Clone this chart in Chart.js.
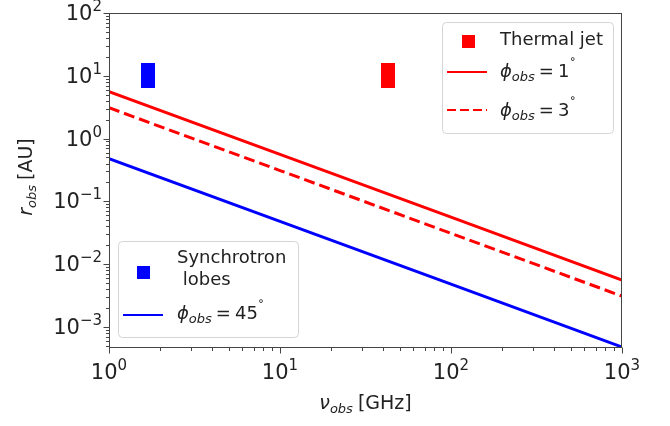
<!DOCTYPE html>
<html>
<head>
<meta charset="utf-8">
<script src="https://cdn.jsdelivr.net/npm/chart.js@4/dist/chart.umd.min.js"></script>
<style>
html,body{margin:0;padding:0;background:#fff;}
#wrap{width:670px;height:426px;position:relative;}
</style>
</head>
<body>
<div id="wrap"><canvas id="c" width="670" height="426"></canvas></div>
<script>
// ---- data ----
const freqGHz = [1, 10, 100, 1000];
const rJetPhi1 = [5.6, 0.56, 0.056, 0.0056];
const rJetPhi3 = [3.1, 0.31, 0.031, 0.0031];
const rLobesPhi45 = [0.48, 0.048, 0.0048, 0.00048];
const thermalJetX = [43];
const thermalJetY = [10];
const lobesX = [1.7];
const lobesY = [10];
const xTickExps = [0, 1, 2, 3];
const yTickExps = [-3, -2, -1, 0, 1, 2];
const xRange = [1, 1000];
const yRange = [0.00048, 100];

const FONT = "'DejaVu Sans'";
const fN = s => s + "px " + FONT;
const fI = s => "italic " + s + "px " + FONT;

function rectStyle(color, w, h) {
  const c = document.createElement('canvas');
  c.width = w; c.height = h;
  const g = c.getContext('2d');
  g.fillStyle = color; g.fillRect(0, 0, w, h);
  return c;
}

function toPts(xs, ys) { return xs.map((x, i) => ({x: x, y: ys[i]})); }

function runsWidth(ctx, runs) {
  let w = 0;
  runs.forEach(r => { ctx.font = r.font; w += ctx.measureText(r.t).width + (r.gap || 0); });
  return w;
}
function drawRuns(ctx, runs, x, y) {
  ctx.textBaseline = 'alphabetic';
  ctx.textAlign = 'left';
  runs.forEach(r => {
    ctx.font = r.font;
    ctx.fillText(r.t, x, y + (r.dy || 0));
    x += ctx.measureText(r.t).width + (r.gap || 0);
  });
}
function powRuns(e, size) {
  const sup = e < 0 ? '\u2212' + (-e) : String(e);
  return [{t: '10', font: fN(size)}, {t: sup, font: fN(Math.round(size * 0.7)), dy: -Math.round(size * 0.45)}];
}
function phiRuns(val, size) {
  const s = Math.round(size * 0.7);
  return [
    {t: '\u03D5', font: fI(size)},
    {t: 'obs', font: fI(s), dy: Math.round(size * 0.2), gap: 4},
    {t: '=', font: fN(size), gap: 4},
    {t: val, font: fN(size)},
    {t: '\u02DA', font: fN(s), dy: -Math.round(size * 0.45)}
  ];
}

const decor = {
  id: 'decor',
  afterDraw(chart) {
    const ctx = chart.ctx;
    const a = chart.chartArea;
    const xs = chart.scales.x, ys = chart.scales.y;
    ctx.save();
    // frame
    ctx.strokeStyle = '#444';
    ctx.lineWidth = 1;
    ctx.strokeRect(Math.round(a.left) + 0.5, Math.round(a.top) + 0.5, Math.round(a.right - a.left) - 1, Math.round(a.bottom - a.top));
    // ticks
    ctx.beginPath();
    const bottom = Math.round(a.bottom) + 0.5, left = Math.round(a.left) + 0.5;
    for (let e = -4; e <= 3; e++) {
      for (let m = 1; m <= 9; m++) {
        const v = m * Math.pow(10, e);
        const len = m === 1 ? 6 : 3.5;
        if (v >= xRange[0] - 1e-9 && v <= xRange[1] + 1e-9) {
          const px = Math.round(xs.getPixelForValue(v)) + 0.5;
          ctx.moveTo(px, bottom); ctx.lineTo(px, bottom + len);
        }
        if (v >= yRange[0] && v <= yRange[1] * 1.0001) {
          const py = Math.round(ys.getPixelForValue(v)) + 0.5;
          ctx.moveTo(left, py); ctx.lineTo(left - len, py);
        }
      }
    }
    ctx.stroke();
    // tick labels
    ctx.fillStyle = '#222';
    const TS = 21;
    xTickExps.forEach(e => {
      const px = xs.getPixelForValue(Math.pow(10, e));
      const runs = powRuns(e, TS);
      const w = runsWidth(ctx, runs);
      drawRuns(ctx, runs, px - w / 2, 379);
    });
    yTickExps.forEach(e => {
      const py = ys.getPixelForValue(Math.pow(10, e));
      const runs = powRuns(e, TS);
      const w = runsWidth(ctx, runs);
      drawRuns(ctx, runs, 102 - w, py + 7);
    });
    // axis titles
    const xt = [{t: '\u03BD', font: fI(19)}, {t: 'obs', font: fI(13), dy: 4, gap: 5}, {t: '[GHz]', font: fN(19)}];
    const xw = runsWidth(ctx, xt);
    drawRuns(ctx, xt, (a.left + a.right) / 2 - xw / 2, 409);
    const yt = [{t: 'r', font: fI(19)}, {t: 'obs', font: fI(13), dy: 4, gap: 5}, {t: '[AU]', font: fN(19)}];
    const yw = runsWidth(ctx, yt);
    ctx.save();
    ctx.translate(32, 177);
    ctx.rotate(-Math.PI / 2);
    drawRuns(ctx, yt, -yw / 2, 0);
    ctx.restore();

    // legends
    function box(x0, y0, x1, y1) {
      ctx.beginPath();
      ctx.roundRect(x0 + 0.5, y0 + 0.5, x1 - x0, y1 - y0, 4);
      ctx.fillStyle = 'rgba(255,255,255,0.8)';
      ctx.fill();
      ctx.strokeStyle = '#d4d4d4';
      ctx.lineWidth = 1;
      ctx.stroke();
    }
    const LS = 18;
    // upper right legend
    box(442, 22, 613, 133);
    ctx.fillStyle = '#ff0000';
    ctx.fillRect(462, 35, 13, 13);
    ctx.fillStyle = '#222';
    drawRuns(ctx, [{t: 'Thermal jet', font: fN(LS)}], 500, 45);
    ctx.strokeStyle = '#ff0000';
    ctx.lineWidth = 2;
    ctx.setLineDash([]);
    ctx.beginPath(); ctx.moveTo(447, 72); ctx.lineTo(487, 72); ctx.stroke();
    ctx.setLineDash([9, 4]);
    ctx.beginPath(); ctx.moveTo(447, 110); ctx.lineTo(487, 110); ctx.stroke();
    ctx.setLineDash([]);
    ctx.fillStyle = '#222';
    drawRuns(ctx, phiRuns('1', LS), 500, 77);
    drawRuns(ctx, phiRuns('3', LS), 500, 116);
    // lower left legend
    box(118, 241, 298, 337);
    ctx.fillStyle = '#0000ff';
    ctx.fillRect(137, 266, 13, 13);
    ctx.fillStyle = '#222';
    drawRuns(ctx, [{t: 'Synchrotron', font: fN(LS)}], 177, 263);
    drawRuns(ctx, [{t: ' lobes', font: fN(LS)}], 177, 285);
    ctx.strokeStyle = '#0000ff';
    ctx.lineWidth = 2;
    ctx.beginPath(); ctx.moveTo(123, 315); ctx.lineTo(163, 315); ctx.stroke();
    ctx.fillStyle = '#222';
    drawRuns(ctx, phiRuns('45', LS), 177, 319);
    ctx.restore();
  }
};

new Chart(document.getElementById('c'), {
  type: 'scatter',
  data: {
    datasets: [
      {label: 'phi1', data: toPts(freqGHz, rJetPhi1), showLine: true, borderColor: '#ff0000', borderWidth: 3, pointRadius: 0},
      {label: 'phi3', data: toPts(freqGHz, rJetPhi3), showLine: true, borderColor: '#ff0000', borderWidth: 3, borderDash: [11, 5], pointRadius: 0},
      {label: 'phi45', data: toPts(freqGHz, rLobesPhi45), showLine: true, borderColor: '#0000ff', borderWidth: 3, pointRadius: 0},
      {label: 'Thermal jet', data: toPts(thermalJetX, thermalJetY), pointStyle: rectStyle('#ff0000', 14, 25), showLine: false},
      {label: 'Synchrotron lobes', data: toPts(lobesX, lobesY), pointStyle: rectStyle('#0000ff', 14, 25), showLine: false}
    ]
  },
  options: {
    responsive: false,
    animation: false,
    layout: {padding: {left: 109, right: 48, top: 13, bottom: 79}},
    plugins: {legend: {display: false}, tooltip: {enabled: false}},
    scales: {
      x: {type: 'logarithmic', min: xRange[0], max: xRange[1], display: false},
      y: {type: 'logarithmic', min: yRange[0], max: yRange[1], display: false}
    }
  },
  plugins: [decor]
});
</script>
</body>
</html>
